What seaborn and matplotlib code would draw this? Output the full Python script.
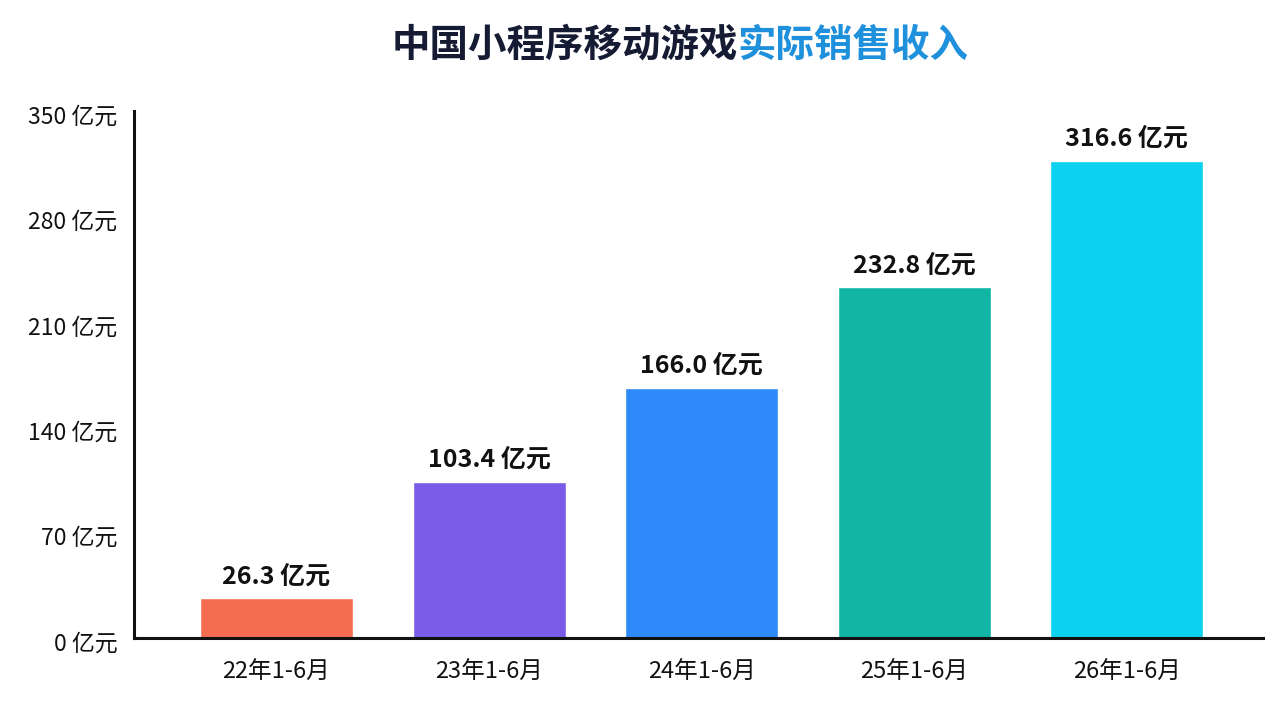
import matplotlib
matplotlib.use("Agg")
import matplotlib.pyplot as plt
import matplotlib.transforms as mtransforms
import seaborn as sns
import pandas as pd

categories = ["22年1-6月", "23年1-6月", "24年1-6月", "25年1-6月", "26年1-6月"]
values = [26.3, 103.4, 166.0, 232.8, 316.6]
colors = ["#F46D51", "#7B5CE8", "#2F8AF9", "#10B5A6", "#0BD2F0"]
yticks = [0, 70, 140, 210, 280, 350]
ytick_labels = [f"{v} 亿元" for v in yticks]
title_dark = "中国小程序移动游戏"
title_blue = "实际销售收入"

sns.set_theme(style="white")
plt.rcParams["font.family"] = ["Noto Sans CJK SC", "DejaVu Sans"]

df = pd.DataFrame({"period": categories, "value": values})

fig = plt.figure(figsize=(12.8, 7.2), dpi=100)
fig.patch.set_facecolor("white")
ax = fig.add_axes([134/1280, 1-637.5/720, (1263-134)/1280, (637.5-110.5)/720])

sns.barplot(data=df, x="period", y="value", hue="period", palette=colors,
            legend=False, width=0.72, saturation=1, ax=ax)

ax.set_xlim(-0.67, 4.64)
ax.set_ylim(0, 350)
ax.set_yticks(yticks)
ax.set_yticklabels(ytick_labels)
ax.set_xlabel("")
ax.set_ylabel("")
ax.tick_params(axis="both", length=0, colors="#111111")
ax.tick_params(axis="y", pad=12, labelsize=16.5)
ax.tick_params(axis="x", pad=17, labelsize=17)
for lab in ax.get_yticklabels() + ax.get_xticklabels():
    lab.set_fontweight("medium")
offset = mtransforms.ScaledTranslation(0, -4/100, fig.dpi_scale_trans)
for lab in ax.get_yticklabels():
    lab.set_transform(lab.get_transform() + offset)
for s in ["top", "right"]:
    ax.spines[s].set_visible(False)
for s in ["left", "bottom"]:
    ax.spines[s].set_color("#111111")
    ax.spines[s].set_linewidth(2.2)

for i, v in enumerate(values):
    ax.annotate(f"{v:.1f} 亿元", xy=(i, v), xytext=(0, 7), textcoords="offset points",
                ha="center", va="bottom", fontsize=18, fontweight="bold", color="#111111")

# Two-colour title
fig.canvas.draw()
renderer = fig.canvas.get_renderer()
t1 = fig.text(0, 1-45/720, title_dark, fontsize=27.7, fontweight="bold", color="#141B33",
              ha="left", va="center")
t2 = fig.text(0, 1-45/720, title_blue, fontsize=27.7, fontweight="bold", color="#1E90DC",
              ha="left", va="center")
w1 = t1.get_window_extent(renderer).width
w2 = t2.get_window_extent(renderer).width
total = w1 + w2
start = 680 - total/2
t1.set_x(start/1280)
t2.set_x((start + w1)/1280)

fig.savefig("out.png", dpi=100, facecolor="white")
